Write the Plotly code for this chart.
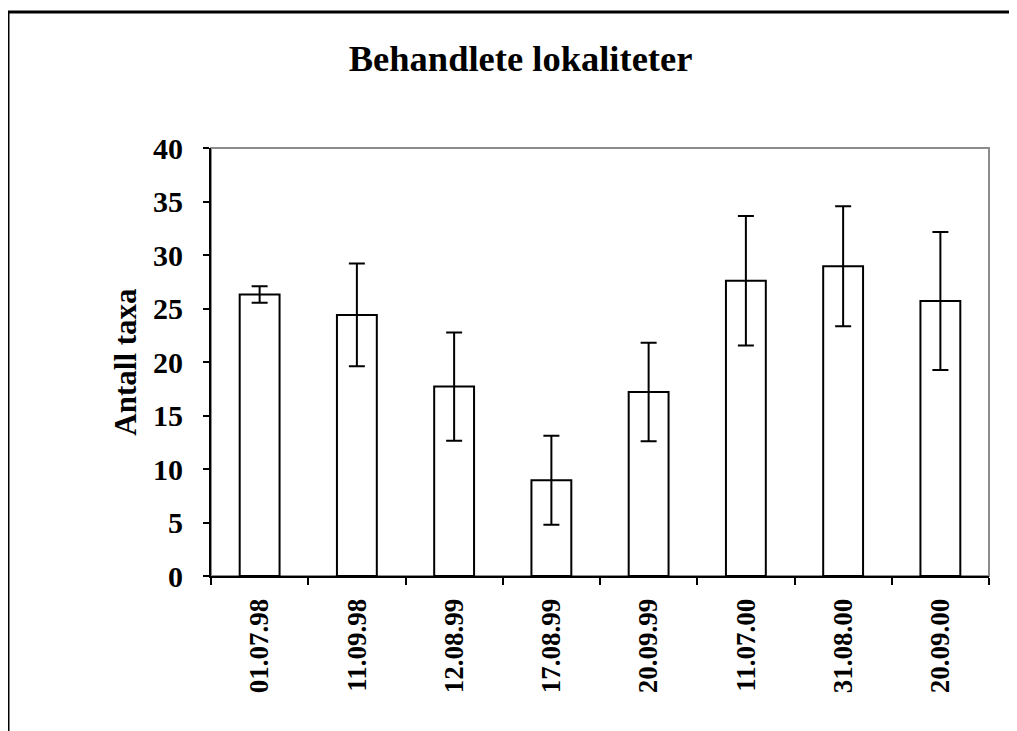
import plotly.graph_objects as go

# data
datoer = ['01.07.98', '11.09.98', '12.08.99', '17.08.99',
          '20.09.99', '11.07.00', '31.08.00', '20.09.00']
antall_taxa = [26.3, 24.4, 17.7, 8.95, 17.2, 27.6, 28.95, 25.7]
feil = [0.77, 4.8, 5.05, 4.15, 4.6, 6.05, 5.6, 6.45]
y_ticks = [0, 5, 10, 15, 20, 25, 30, 35, 40]

FONT = 'Liberation Serif, Times New Roman, serif'

fig = go.Figure()
fig.add_trace(go.Bar(
    x=datoer, y=antall_taxa,
    marker=dict(color='white', line=dict(color='black', width=2)),
    error_y=dict(type='data', array=feil, visible=True,
                 color='black', thickness=2, width=8),
    showlegend=False,
))

# page body adds 8px offset, so margins are shifted accordingly
fig.update_layout(
    width=1017, height=731,
    margin=dict(l=203, r=36, t=140, b=163),
    paper_bgcolor='white', plot_bgcolor='white',
    bargap=0.59,
    font=dict(family=FONT, color='black'),
    title=dict(text='Behandlete lokaliteter',
               font=dict(size=36.5, family=FONT, color='black', weight='bold'),
               x=0.504, xanchor='center', y=1 - 50 / 731, yanchor='middle'),
    xaxis=dict(
        type='category', tickson='boundaries',
        ticks='outside', ticklen=7, tickwidth=2, tickcolor='black',
        showline=True, linecolor='black', linewidth=2,
        showgrid=False, tickangle=-90, ticklabelstandoff=10,
        tickfont=dict(size=27, family=FONT, color='black', weight='bold'),
    ),
    yaxis=dict(
        range=[0, 40], tickvals=y_ticks,
        ticks='outside', ticklen=6, tickwidth=2, tickcolor='black',
        showline=True, linecolor='black', linewidth=2,
        showgrid=False, zeroline=False, ticklabelstandoff=14,
        tickfont=dict(size=30, family=FONT, color='black', weight='bold'),
        title=dict(text='Antall taxa',
                   font=dict(size=31, family=FONT, color='black', weight='bold'),
                   standoff=7),
    ),
    shapes=[
        # grey frame on top and right of the plot area
        dict(type='rect', xref='paper', yref='paper', x0=0, x1=1, y0=0, y1=1,
             line=dict(color='#8c8c8c', width=2), layer='below'),
        # outer chart border (cut off at right and bottom)
        dict(type='rect', xref='paper', yref='paper',
             x0=(8 - 211) / 778, x1=1.2, y0=-0.5, y1=(576 - 12) / 428,
             line=dict(color='black', width=3), layer='below'),
    ],
)

fig.write_html('out.html')
